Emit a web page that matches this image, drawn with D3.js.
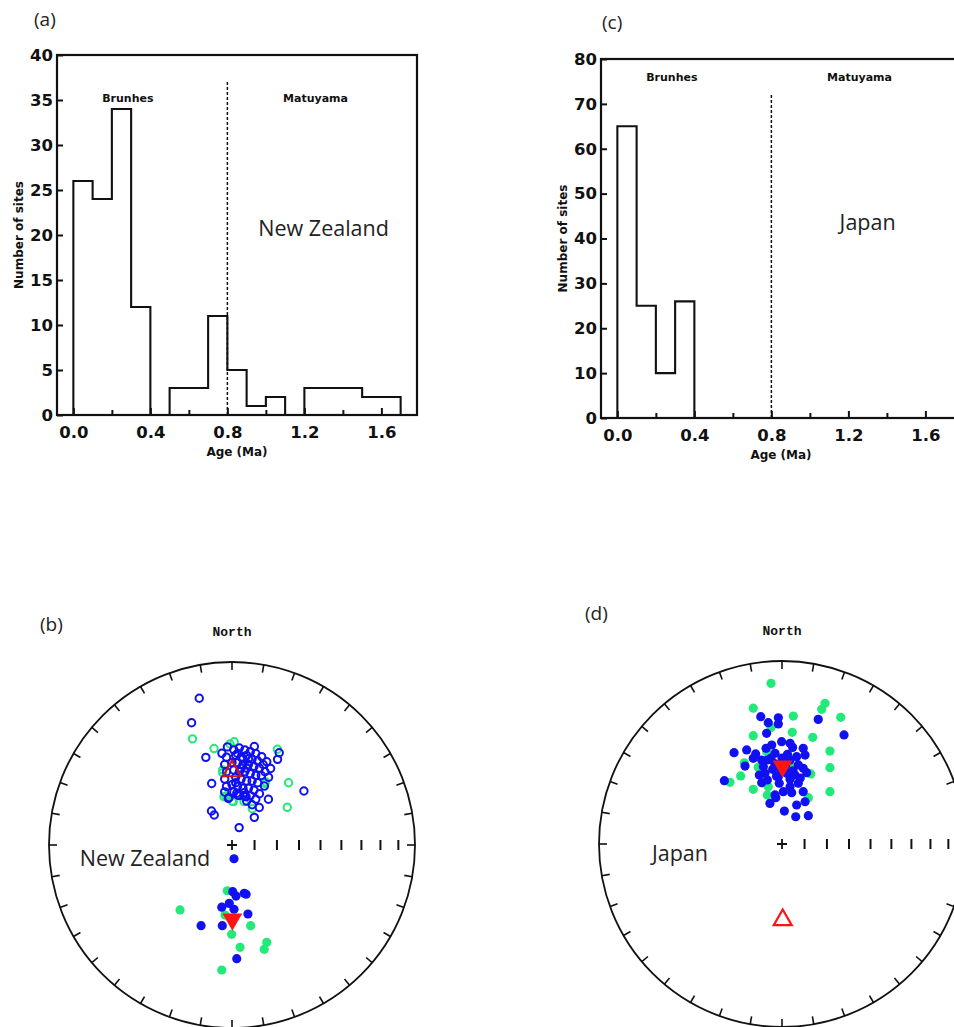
<!DOCTYPE html>
<html>
<head>
<meta charset="utf-8">
<script src="https://cdn.jsdelivr.net/npm/d3@7"></script>
<style>
  body { margin: 0; background: #fff; }
</style>
</head>
<body>
<div id="chart"></div>
<script>

// Age histograms, 0.1 Ma bins
const ageEdges = [0.0, 0.1, 0.2, 0.3, 0.4, 0.5, 0.6, 0.7, 0.8, 0.9, 1.0, 1.1, 1.2, 1.3, 1.4, 1.5, 1.6, 1.7];
const nzCounts = [26, 24, 34, 12, 0, 3, 3, 11, 5, 1, 2, 0, 3, 3, 3, 2, 2];
const jpCounts = [65, 25, 10, 26];
const ageTicks = [0.0, 0.2, 0.4, 0.6, 0.8, 1.0, 1.2, 1.4, 1.6];
const ageLabels = [0.0, 0.4, 0.8, 1.2, 1.6];
const nzCountTicks = [0, 5, 10, 15, 20, 25, 30, 35, 40];
const jpCountTicks = [0, 10, 20, 30, 40, 50, 60, 70, 80];
const brunhesMatuyama = 0.8;

// Site mean directions, equal-area coordinates (east, north) in % of primitive radius
// open symbols = upper hemisphere, filled = lower hemisphere
const nzOpenBlue = [
  [-17.9, 80.2], [-22.1, 66.8], [-14.3, 47.9], [-2.5, 53.6], [-5.5, 50.1], [12.2, 53.8],
  [25.8, 50.4], [24.9, 46.8], [21.1, 41.8], [-11.1, 33.6], [39.3, 29.5], [19.9, 25.0],
  [14.9, 20.5], [12.2, 15.1], [3.9, 9.5], [-11.2, 18.6], [-9.7, 16.4], [-1.6, 25.8],
  [3.1, 27.3], [7.7, 26.4], [6.7, 28.6], [17.7, 32.2], [19.0, 45.5], [16.2, 48.3],
  [-2.0, 25.5], [2.6, 28.3], [7.1, 26.8],
  [1, 52], [4, 53], [7, 52], [10, 51], [13, 50], [2, 49], [5, 48], [8, 49], [11, 47],
  [14, 46], [0, 45], [3, 45], [6, 44], [9, 44], [12, 43], [15, 42], [1, 41], [4, 40],
  [7, 40], [10, 39], [13, 38], [16, 38], [2, 37], [5, 36], [8, 35], [11, 35], [14, 34],
  [0, 33], [3, 32], [6, 31], [9, 31], [12, 30], [-3, 48], [-4, 44], [-3, 40], [-4, 36],
  [-3, 32], [-4, 29], [1, 29], [4, 27], [8, 24], [11, 22], [15, 28], [18, 40], [17, 44],
  [20, 37], [13, 25], [10, 27], [3, 50], [6, 47], [9, 47], [5, 42], [8, 42], [2, 34]
];
const nzOpenGreen = [
  [-21.6, 58.0], [-9.8, 52.7], [1.2, 56.4], [-1.1, 55.2], [24.8, 52.3], [30.9, 34.0],
  [30.2, 20.6], [11.1, 19.8], [-3.3, 26.8], [0.2, 24.0], [18.2, 34.6], [-4.4, 26.4],
  [0.7, 23.7], [6.6, 23.7], [-5.1, 41.0], [18.0, 33.7], [-5.1, 39.5]
];
const nzFilledBlue = [
  [1.1, -7.5], [0.4, -25.5], [2.2, -27.9], [6.7, -26.4], [7.7, -26.9], [-5.6, -34.0],
  [-1.5, -31.9], [1.1, -35.1], [8.7, -37.7], [-16.9, -44.1], [-5.3, -44.1], [2.6, -62.1]
];
const nzFilledGreen = [
  [-2.6, -25.0], [-28.4, -35.5], [-3.8, -38.3], [-0.2, -48.8], [10.2, -44.1],
  [4.4, -55.9], [19.0, -53.2], [17.6, -57.0], [-5.6, -68.3]
];
const nzMeanNormal = [0.0, 40.4];   // open, upper hemisphere
const nzMeanReverse = [0.2, -40.6]; // filled, lower hemisphere

const jpFilledBlue = [
  [-11.6, 69.6], [-7.5, 66.3], [-2.0, 65.6], [-2.0, 69.0], [-8.4, 60.5], [19.8, 68.1],
  [33.9, 59.6], [-26.2, 49.9], [-19.3, 51.4], [-20.2, 42.6], [-31.5, 34.6], [-0.2, 55.9],
  [4.4, 55.0], [-5.6, 54.1], [11.6, 52.3], [12.6, 48.6], [-14.4, 49.2], [-11.1, 45.9],
  [-10.2, 42.2], [-9.3, 38.6], [-11.1, 33.5], [-6.6, 22.2], [-3.4, 25.3], [1.3, 18.0],
  [7.5, 14.9], [14.4, 15.5], [8.0, 21.3], [12.6, 23.1], [11.6, 28.6], [8.9, 33.2],
  [5.3, 28.0], [0.7, 28.6], [-1.5, 33.2], [13.5, 39.0], [11.6, 41.4], [7.1, 37.7],
  [4.4, 35.4], [-3.8, 49.6], [-8.0, 45.9], [-5.1, 40.8], [8.0, 47.7], [4.4, 45.9],
  [8.9, 43.2], [2.6, 38.6], [-2.0, 36.8], [4.4, 31.3], [-3.8, 26.8], [-15.7, 46.8],
  [-12.4, 37.7], [-8.7, 52.3], [5.8, 52.8], [-4, 44], [0, 47], [-1, 41], [3, 49],
  [-6, 47], [2, 43], [-3, 37], [6, 40], [-8, 35], [10, 36]
];
const jpFilledGreen = [
  [-6.0, 87.8], [-15.7, 74.2], [6.2, 69.9], [21.7, 73.6], [23.5, 76.9], [32.1, 69.2],
  [-15.7, 59.2], [5.6, 61.0], [16.8, 58.3], [26.2, 50.8], [26.2, 41.7], [26.2, 28.6],
  [15.7, 38.3], [-22.6, 37.2], [-28.4, 33.7], [-15.7, 29.9], [-7.5, 31.3], [-8.0, 26.8],
  [-20.6, 44.4], [14.4, 25.3], [-6.0, 63.6], [-13.0, 41.9], [5.8, 42.2], [-8.4, 50.4]
];
const jpMeanNormal = [0.3, 42.5];   // filled, lower hemisphere
const jpMeanReverse = [0.4, -41.5]; // open, upper hemisphere

const inclinationTicks = [80, 70, 60, 50, 40, 30, 20, 10];

const blue = "#1010f2";
const green = "#22ea78";
const red = "#ff1414";
const ink = "#111";
const boldFont = "DejaVu Sans";
const textFont = "Open Sans";

const svg = d3.select("#chart")
  .append("svg")
  .attr("width", 954)
  .attr("height", 1027)
  .style("display", "block");

function drawHist(o) {
  const x = d3.scaleLinear().domain([-0.085, 1.785]).range([o.left, o.left + 360]);
  const y = d3.scaleLinear().domain([0, o.yMax]).range([o.bottom, o.top]);
  const g = svg.append("g");

  // outline of bars
  const pts = [[ageEdges[0], 0]];
  o.counts.forEach((c, i) => {
    pts.push([ageEdges[i], c]);
    pts.push([ageEdges[i + 1], c]);
  });
  pts.push([ageEdges[o.counts.length], 0]);
  g.append("path")
    .attr("d", d3.line().x(d => x(d[0])).y(d => y(d[1]))(pts))
    .attr("fill", "none")
    .attr("stroke", ink)
    .attr("stroke-width", 2.1);

  // Brunhes / Matuyama boundary
  g.append("line")
    .attr("x1", x(brunhesMatuyama)).attr("x2", x(brunhesMatuyama))
    .attr("y1", y(0)).attr("y2", y(o.dashTop))
    .attr("stroke", ink)
    .attr("stroke-width", 1.5)
    .attr("stroke-dasharray", "3,2");

  const isMajor = d => ageLabels.some(v => Math.abs(v - d) < 1e-9);
  const xAxis = g.append("g")
    .attr("transform", `translate(0,${o.bottom})`)
    .call(d3.axisBottom(x)
      .tickValues(ageTicks)
      .tickSizeInner(-6)
      .tickSizeOuter(0)
      .tickPadding(o.xPad)
      .tickFormat(d => isMajor(d) ? d3.format(".1f")(d) : ""));
  xAxis.select(".domain").remove();
  xAxis.selectAll(".tick line").attr("stroke", ink).attr("stroke-width", 2)
    .attr("y2", d => isMajor(d) ? -7 : -5);
  xAxis.selectAll("text")
    .attr("font-family", boldFont).attr("font-weight", "bold")
    .attr("font-size", 16.5).attr("fill", ink);

  const yAxis = g.append("g")
    .attr("transform", `translate(${o.left},0)`)
    .call(d3.axisLeft(y)
      .tickValues(o.yTicks)
      .tickSizeInner(-6)
      .tickSizeOuter(0)
      .tickPadding(4));
  yAxis.select(".domain").remove();
  yAxis.selectAll(".tick line").attr("stroke", ink).attr("stroke-width", 2);
  yAxis.selectAll("text")
    .attr("font-family", boldFont).attr("font-weight", "bold")
    .attr("font-size", 16.5).attr("fill", ink);

  // frame
  g.append("rect")
    .attr("x", o.left).attr("y", o.top)
    .attr("width", 360).attr("height", o.bottom - o.top)
    .attr("fill", "none")
    .attr("stroke", ink)
    .attr("stroke-width", 2.2);

  const small = (txt, ax, cy) => g.append("text")
    .attr("x", x(ax)).attr("y", y(cy))
    .attr("text-anchor", "middle")
    .attr("font-family", boldFont).attr("font-weight", "bold")
    .attr("font-size", 11).attr("fill", ink)
    .text(txt);
  small("Brunhes", 0.283, o.polarityY);
  small("Matuyama", 1.258, o.polarityY);

  g.append("text")
    .attr("x", x(1.3)).attr("y", y(o.nameY))
    .attr("text-anchor", "middle")
    .attr("font-family", textFont)
    .attr("font-size", 21.5).attr("fill", "#222")
    .text(o.name);

  g.append("text")
    .attr("x", (o.left + o.left + 360) / 2).attr("y", o.bottom + 41)
    .attr("text-anchor", "middle")
    .attr("font-family", boldFont).attr("font-weight", "bold")
    .attr("font-size", 12).attr("fill", ink)
    .text("Age (Ma)");

  g.append("text")
    .attr("transform", `translate(${o.left - 34},${(o.top + o.bottom) / 2}) rotate(-90)`)
    .attr("text-anchor", "middle")
    .attr("font-family", boldFont).attr("font-weight", "bold")
    .attr("font-size", 12).attr("fill", ink)
    .text("Number of sites");

  g.append("text")
    .attr("x", o.panelX).attr("y", o.panelY)
    .attr("font-family", textFont)
    .attr("font-size", 19).attr("fill", "#222")
    .text(o.panel);
}

function drawNet(o) {
  const R = 183;
  const sx = d3.scaleLinear().domain([-100, 100]).range([o.cx - R, o.cx + R]);
  const sy = d3.scaleLinear().domain([-100, 100]).range([o.cy + R, o.cy - R]);
  const g = svg.append("g");

  g.append("circle")
    .attr("cx", o.cx).attr("cy", o.cy).attr("r", R)
    .attr("fill", "none").attr("stroke", ink).attr("stroke-width", 1.8);

  // declination ticks every 10 degrees
  g.selectAll(".az")
    .data(d3.range(0, 360, 10))
    .enter().append("line")
    .attr("x1", d => o.cx + R * Math.sin(d * Math.PI / 180))
    .attr("y1", d => o.cy - R * Math.cos(d * Math.PI / 180))
    .attr("x2", d => o.cx + (R - 8) * Math.sin(d * Math.PI / 180))
    .attr("y2", d => o.cy - (R - 8) * Math.cos(d * Math.PI / 180))
    .attr("stroke", ink).attr("stroke-width", 1.6);

  // inclination ticks along east axis (equal-area)
  g.selectAll(".inc")
    .data(inclinationTicks)
    .enter().append("line")
    .attr("x1", d => sx(100 * Math.SQRT2 * Math.sin((90 - d) / 2 * Math.PI / 180)))
    .attr("x2", d => sx(100 * Math.SQRT2 * Math.sin((90 - d) / 2 * Math.PI / 180)))
    .attr("y1", o.cy - 5).attr("y2", o.cy + 5)
    .attr("stroke", ink).attr("stroke-width", 2);

  g.append("path")
    .attr("d", `M${o.cx - 5},${o.cy}H${o.cx + 5}M${o.cx},${o.cy - 5}V${o.cy + 5}`)
    .attr("stroke", ink).attr("stroke-width", 1.8);

  const open = (data, color) => g.append("g").selectAll("circle")
    .data(data).enter().append("circle")
    .attr("cx", d => sx(d[0])).attr("cy", d => sy(d[1]))
    .attr("r", 3.7)
    .attr("fill", "none").attr("stroke", color).attr("stroke-width", 2);
  const filled = (data, color) => g.append("g").selectAll("circle")
    .data(data).enter().append("circle")
    .attr("cx", d => sx(d[0])).attr("cy", d => sy(d[1]))
    .attr("r", 4.6)
    .attr("fill", color);

  if (o.openGreen) open(o.openGreen, green);
  if (o.openBlue) open(o.openBlue, blue);
  if (o.filledGreen) filled(o.filledGreen, green);
  if (o.filledBlue) filled(o.filledBlue, blue);

  const tri = d3.symbol().type(d3.symbolTriangle);
  g.append("path")
    .attr("d", tri.size(140)())
    .attr("transform", `translate(${sx(o.meanOpen[0])},${sy(o.meanOpen[1])})`)
    .attr("fill", "none").attr("stroke", o.openStroke).attr("stroke-width", 2.2);
  g.append("path")
    .attr("d", tri.size(170)())
    .attr("transform", `translate(${sx(o.meanFilled[0])},${sy(o.meanFilled[1])}) rotate(180)`)
    .attr("fill", red);

  g.append("text")
    .attr("x", o.cx).attr("y", o.cy - 209)
    .attr("text-anchor", "middle")
    .attr("font-family", "Liberation Mono").attr("font-weight", "bold")
    .attr("font-size", 13).attr("fill", ink)
    .text("North");

  g.append("text")
    .attr("x", o.nameX).attr("y", o.nameY)
    .attr("text-anchor", "middle")
    .attr("font-family", textFont)
    .attr("font-size", 21.5).attr("fill", "#222")
    .text(o.name);

  g.append("text")
    .attr("x", o.panelX).attr("y", o.panelY)
    .attr("font-family", textFont)
    .attr("font-size", 19).attr("fill", "#222")
    .text(o.panel);
}

drawHist({
  left: 57, top: 55, bottom: 415, yMax: 40, yTicks: nzCountTicks,
  counts: nzCounts, dashTop: 37, polarityY: 34.8, name: "New Zealand", nameY: 19.9,
  xPad: 11, panel: "(a)", panelX: 34, panelY: 26
});
drawHist({
  left: 601, top: 59, bottom: 418, yMax: 80, yTicks: jpCountTicks,
  counts: jpCounts, dashTop: 72.2, polarityY: 75, name: "Japan", nameY: 41.9,
  xPad: 11, panel: "(c)", panelX: 602, panelY: 29
});

drawNet({
  cx: 232, cy: 845, name: "New Zealand", nameX: 145, nameY: 866,
  openBlue: nzOpenBlue, openGreen: nzOpenGreen,
  filledBlue: nzFilledBlue, filledGreen: nzFilledGreen,
  meanOpen: nzMeanNormal, meanFilled: nzMeanReverse, openStroke: "#d4101c",
  panel: "(b)", panelX: 40, panelY: 631
});
drawNet({
  cx: 782, cy: 844, name: "Japan", nameX: 680, nameY: 861,
  filledBlue: jpFilledBlue, filledGreen: jpFilledGreen,
  meanOpen: jpMeanReverse, meanFilled: jpMeanNormal, openStroke: red,
  panel: "(d)", panelX: 585, panelY: 620
});

</script>
</body>
</html>
